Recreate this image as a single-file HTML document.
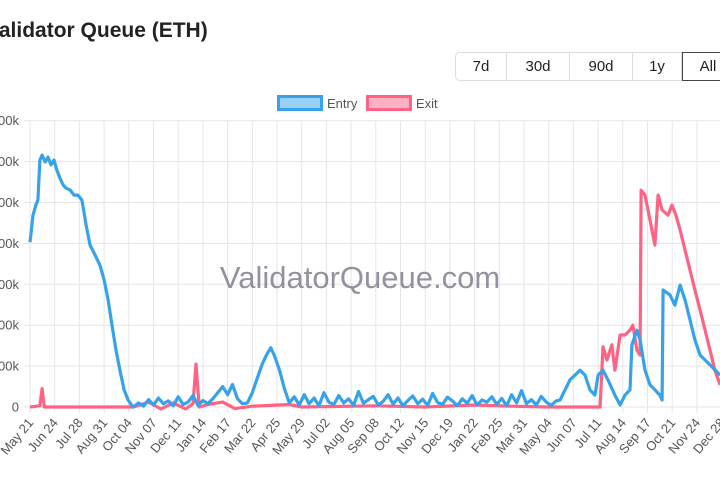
<!DOCTYPE html>
<html><head><meta charset="utf-8">
<style>
body{margin:0;width:720px;height:480px;overflow:hidden;background:#fff;font-family:"Liberation Sans",sans-serif;position:relative}
#title{position:absolute;left:-14px;top:19px;font-size:21px;font-weight:bold;color:#222;white-space:nowrap}
.btns{position:absolute;left:455px;top:52px;display:flex;height:29px}
.btn{border:1px solid #ddd;border-left:none;font-size:15px;color:#222;display:flex;align-items:center;justify-content:center;box-sizing:border-box;height:29px}
.btn:first-child{border-left:1px solid #ddd;border-radius:5px 0 0 5px}
.btn.active{border:1px solid #444}
</style></head><body>
<div id="title">Validator Queue (ETH)</div>
<div class="btns">
<div class="btn" style="width:52px">7d</div>
<div class="btn" style="width:63px">30d</div>
<div class="btn" style="width:63px">90d</div>
<div class="btn" style="width:49px">1y</div>
<div class="btn active" style="width:52px">All</div>
</div>
<svg id="chart" width="720" height="480" style="position:absolute;left:0;top:0"></svg>
<script>
const xLabels=["May 21","Jun 24","Jul 28","Aug 31","Oct 04","Nov 07","Dec 11","Jan 14","Feb 17","Mar 22","Apr 25","May 29","Jul 02","Aug 05","Sep 08","Oct 12","Nov 15","Dec 19","Jan 22","Feb 25","Mar 31","May 04","Jun 07","Jul 11","Aug 14","Sep 17","Oct 21","Nov 24","Dec 28"];
const yTicks=[0,100,200,300,400,500,600,700];
const yTickLabels=["0","100k","200k","300k","400k","500k","600k","700k"];
const entryT=[0,0.12,0.24,0.32,0.4,0.49,0.61,0.73,0.85,0.97,1.09,1.21,1.34,1.46,1.62,1.78,1.94,2.1,2.27,2.43,2.63,2.83,3.0,3.16,3.32,3.48,3.64,3.81,3.97,4.17,
4.4,4.6,4.8,5.0,5.2,5.4,5.6,5.8,6.0,6.2,6.4,6.6,6.8,7.0,7.2,7.4,7.6,7.8,8.0,8.2,8.4,8.6,
8.8,9.0,9.2,9.4,9.6,9.75,9.9,10.1,10.3,10.5,
10.7,10.9,11.1,11.3,11.5,11.7,11.9,12.1,12.3,12.5,12.7,12.9,13.1,13.3,13.5,13.7,13.9,14.1,14.3,14.5,14.7,14.9,15.1,15.3,15.5,15.7,15.9,16.1,16.3,16.5,16.7,16.9,17.1,17.3,17.5,17.7,17.9,18.1,18.3,18.5,18.7,18.9,19.1,19.3,19.5,19.7,19.9,20.1,20.3,20.5,20.7,20.9,21.1,21.3,
21.46,21.86,22.27,22.47,22.67,22.87,23.0,23.2,23.4,23.68,23.89,24.09,24.29,24.37,24.57,24.7,24.9,25.1,25.3,25.5,25.59,25.63,25.91,26.11,26.32,26.52,26.72,26.92,27.13,27.33,27.53,27.94];
const entryV=[403,469,494,506,604,616,599,611,592,604,579,560,543,535,531,518,518,506,445,396,372,347,311,262,200,139,90,42,17,0,
10,2,18,5,22,8,15,3,25,6,12,28,4,16,8,20,35,50,30,55,20,8,
10,35,70,105,130,145,125,90,45,10,
25,5,30,8,22,3,35,12,6,28,10,20,4,38,9,18,26,5,14,30,7,22,3,16,27,8,19,4,33,11,6,24,15,3,20,9,28,5,17,12,25,6,21,3,30,10,40,8,18,5,26,12,4,15,
17,66,90,78,42,29,78,90,66,29,5,29,42,152,188,164,90,54,42,29,17,286,274,249,298,262,213,164,127,115,103,78];
const exitT=[0,0.4,0.49,0.58,1.0,3.0,4.2,4.8,5.3,5.8,6.3,6.6,6.72,6.85,7.2,7.8,8.3,9.0,10.5,11.0,14.0,16.0,18.0,19.5,21.0,22.0,23.08,23.2,23.36,23.56,23.68,23.89,24.09,24.29,24.41,24.57,24.7,24.74,24.9,25.1,25.3,25.43,25.59,25.83,25.99,26.15,26.32,26.52,26.72,26.92,27.13,27.33,27.53,27.73,27.94];
const exitV=[0,3,45,0,0,0,0,12,-5,10,-6,8,105,0,6,12,-4,2,6,0,3,0,5,2,0,0,0,147,115,152,90,176,176,188,200,139,127,530,518,457,396,518,482,469,494,469,433,384,335,286,237,188,139,90,54];

const svg=document.getElementById('chart');const NS='http://www.w3.org/2000/svg';
const x0=30,dx=24.7,yb=407,yk=0.409;
const X=t=>x0+t*dx, Y=v=>yb-v*yk;
function mk(tag,attrs){const e=document.createElementNS(NS,tag);for(const k in attrs)e.setAttribute(k,attrs[k]);svg.appendChild(e);return e;}
yTicks.forEach((v,i)=>{
 const l=mk('line',{x1:x0-6,x2:720,y1:Y(v),y2:Y(v),stroke:'#e6e6e6','stroke-width':1});
 
 
 const tx=mk('text',{x:19,y:Y(v)+4.5,'text-anchor':'end','font-size':13,fill:'#555','font-family':'Liberation Sans'});
 tx.textContent=yTickLabels[i];
 
 
});
xLabels.forEach((s,i)=>{
 const x=X(i);
 const l=mk('line',{x1:x,x2:x,y1:Y(700),y2:yb+6,stroke:'#e6e6e6','stroke-width':1});
 
 
 const tx=mk('text',{x:x+4,y:yb+16,'text-anchor':'end','font-size':13,fill:'#555','font-family':'Liberation Sans',transform:`rotate(-50 ${x+4} ${yb+16})`});
 tx.textContent=s;
 
 
});
const wm=mk('text',{x:360,y:288,'text-anchor':'middle','font-size':31,fill:'#6e6e80','fill-opacity':0.75,'font-family':'Liberation Sans'});
wm.textContent='ValidatorQueue.com';


function line(T,V,color,name){
 const n=Math.min(T.length,V.length);
 let d='';
 for(let i=0;i<n;i++)d+=(i?'L':'M')+X(T[i]).toFixed(1)+','+Y(Math.max(V[i],-5)).toFixed(1);
 const p=mk('path',{d,fill:'none',stroke:color,'stroke-width':3.2,'stroke-linejoin':'round'});
 
 
}
line(exitT,exitV,'#ff6384','exit-line');
line(entryT,entryV,'#36a2eb','entry-line');
[[277,'Entry','#36a2eb','rgba(54,162,235,0.5)'],[366,'Exit','#ff6384','rgba(255,99,132,0.5)']].forEach(([x,s,c,f])=>{
 const r=mk('rect',{x:x+1.5,y:96.5,width:43,height:13,fill:f,stroke:c,'stroke-width':3});
 
 
 const tx=mk('text',{x:x+50,y:108,'font-size':13,fill:'#555','font-family':'Liberation Sans'});
 tx.textContent=s;
 
 
});
</script>
</body></html>
